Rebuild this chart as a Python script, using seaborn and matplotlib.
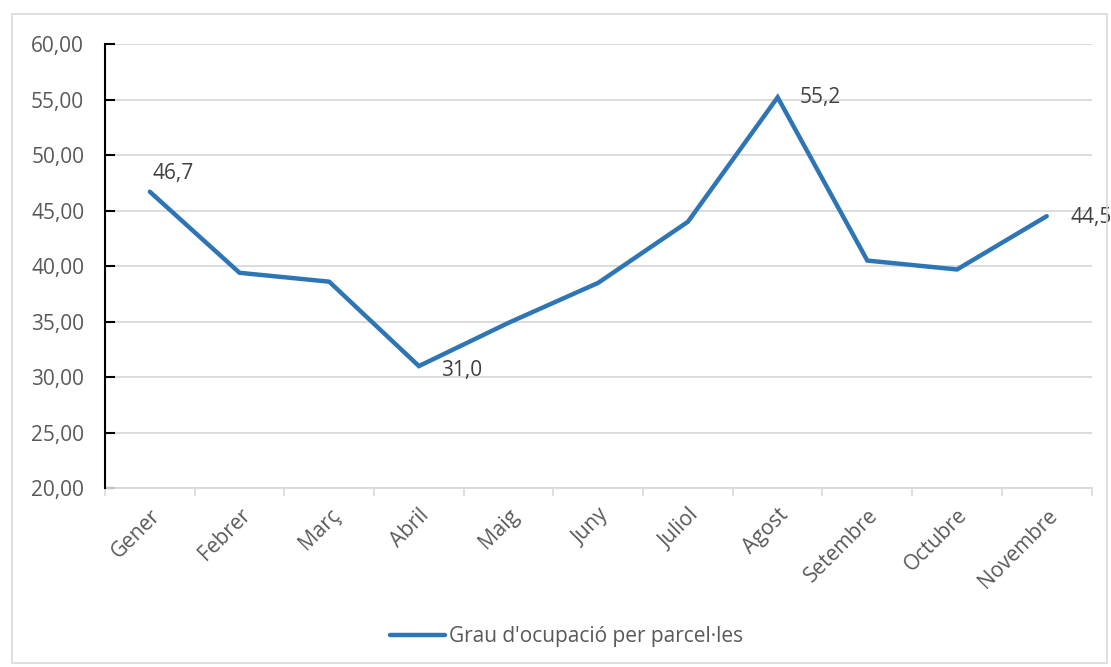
import numpy as np
import pandas as pd
import matplotlib
matplotlib.use("Agg")
import matplotlib.pyplot as plt
import seaborn as sns
from matplotlib.patches import Rectangle

sns.set_style("white")
plt.rcParams['font.family'] = ['Open Sans', 'DejaVu Sans']

# Data
mesos = ["Gener", "Febrer", "Març", "Abril", "Maig", "Juny", "Juliol",
         "Agost", "Setembre", "Octubre", "Novembre"]
ocupacio = [46.7, 39.4, 38.6, 31.0, 34.9, 38.5, 44.0, 55.2, 40.5, 39.7, 44.5]
serie = "Grau d'ocupació per parcel·les"
etiquetes = {"Gener": 46.7, "Abril": 31.0, "Agost": 55.2, "Novembre": 44.5}

df = pd.DataFrame({"mes": mesos, "valor": ocupacio})
df["x"] = np.arange(len(mesos))

fig = plt.figure(figsize=(11.11, 6.67), dpi=100)
ax = fig.add_axes([0.0945, 0.268, 0.888, 0.666])

sns.lineplot(data=df, x="x", y="valor", ax=ax, color="#2e75b6",
             linewidth=3.2, label=serie, solid_capstyle="round",
             solid_joinstyle="miter", legend=False)

ax.set_xlim(-0.5, len(mesos) - 0.5)
ax.set_ylim(20, 60)
ax.set_yticks(np.arange(20, 61, 5))
ax.set_yticklabels([f"{v:.2f}".replace(".", ",") for v in np.arange(20, 61, 5)],
                   fontsize=15, color="#595959")
ax.set_xticks(df["x"])
ax.set_xticklabels(mesos, rotation=45, ha="right", rotation_mode="anchor",
                   fontsize=15, color="#595959")
ax.set_xlabel("")
ax.set_ylabel("")

# minor ticks between categories on x axis
ax.set_xticks(np.arange(-0.5, len(mesos), 1), minor=True)
ax.tick_params(axis="x", which="major", bottom=False, length=0, pad=12)
ax.tick_params(axis="x", which="minor", bottom=True, length=6, color="#d9d9d9",
               width=1.2, direction="out")
ax.tick_params(axis="y", left=True, length=7, color="black", width=1.5,
               direction="in", pad=15)

ax.grid(axis="y", color="#d9d9d9", linewidth=1.3)
ax.set_axisbelow(True)
for s in ["top", "right"]:
    ax.spines[s].set_visible(False)
ax.spines["left"].set_color("black")
ax.spines["left"].set_linewidth(1.5)
ax.spines["left"].set_zorder(3)
ax.spines["bottom"].set_color("#d9d9d9")
ax.spines["bottom"].set_linewidth(1.3)

# data labels
offsets = {"Gener": (0.03, 1.6), "Abril": (0.25, -0.4),
           "Agost": (0.25, -0.05), "Novembre": (0.26, -0.1)}
for mes, v in etiquetes.items():
    i = mesos.index(mes)
    dx, dy = offsets[mes]
    ax.text(i + dx, v + dy, f"{v:.1f}".replace(".", ","), fontsize=15,
            color="#404040", ha="left", va="center", clip_on=False)

# legend
fig.legend(handles=ax.get_lines()[:1], labels=[serie], loc="center",
           bbox_to_anchor=(0.51, 0.046), frameon=False, fontsize=15,
           handlelength=2.6, handletextpad=0.2, labelcolor="#595959")

# figure border
fig.patches.append(Rectangle((0.011, 0.006), 0.985, 0.973, transform=fig.transFigure,
                             fill=False, edgecolor="#d9d9d9", linewidth=1.2))

fig.savefig("out.png", dpi=100)
